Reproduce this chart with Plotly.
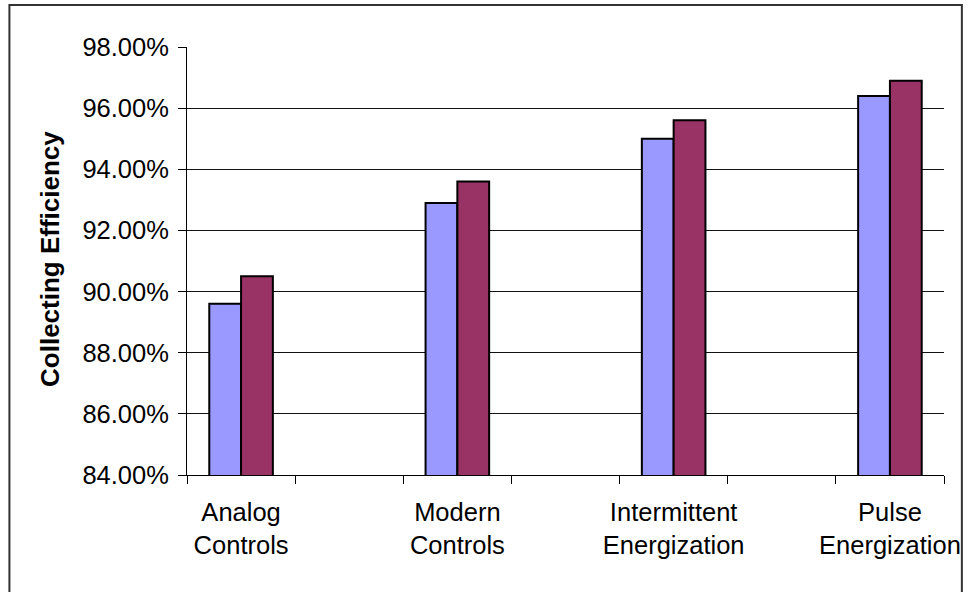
import plotly.graph_objects as go

# Technology categories and collecting efficiency for the two cases
categories = ["Analog<br>Controls", "Modern<br>Controls",
              "Intermittent<br>Energization", "Pulse<br>Energization"]
series_a = [0.896, 0.929, 0.950, 0.964]
series_b = [0.905, 0.936, 0.956, 0.969]

# Each category sits in every other slot, leaving an empty slot between groups
positions = [2 * i + 1 for i in range(len(categories))]

FONT = "Liberation Sans, Arial, sans-serif"

fig = go.Figure()
fig.add_trace(go.Bar(x=positions, y=series_a, name="Series 1",
                     marker=dict(color="#9999FF", line=dict(color="black", width=2))))
fig.add_trace(go.Bar(x=positions, y=series_b, name="Series 2",
                     marker=dict(color="#993366", line=dict(color="black", width=2))))

fig.update_layout(
    width=972, height=592,
    margin=dict(l=187, r=22, t=47, b=117),
    paper_bgcolor="white", plot_bgcolor="white",
    barmode="group", bargap=0.706, bargroupgap=0,
    showlegend=False,
    font=dict(family=FONT, size=25, color="black"),
)

fig.update_xaxes(
    range=[0.5, 2 * len(categories) - 0.5],
    tickmode="array", tickvals=positions, ticktext=categories,
    ticks="", showgrid=False, zeroline=False,
    showline=True, linecolor="black", linewidth=1,
    tickfont=dict(family=FONT, size=25.5, color="black"),
    ticklabelstandoff=14,
    minor=dict(tickmode="linear", tick0=0.5, dtick=1, ticks="outside",
               ticklen=8, tickcolor="black", tickwidth=1, showgrid=False),
)

fig.update_yaxes(
    range=[0.84, 0.98], dtick=0.02, tickformat=".2%",
    ticks="outside", ticklen=8, tickcolor="black", tickwidth=1,
    showgrid=True, gridcolor="#111111", gridwidth=1,
    zeroline=False, showline=True, linecolor="black", linewidth=1,
    tickfont=dict(family=FONT, size=25.5, color="black"),
    ticklabelstandoff=4,
)

fig.add_annotation(
    text="<b>Collecting Efficiency</b>", textangle=-90,
    xref="paper", yref="paper", x=-0.1810, y=0.5047,
    xanchor="center", yanchor="middle", showarrow=False,
    font=dict(family=FONT, size=26, color="black"),
)

# Chart frame around the whole figure
fig.add_shape(type="rect", xref="paper", yref="paper",
              x0=-0.2346, x1=1.0236, y0=-0.35, y1=1.0981,
              line=dict(color="#333333", width=2), layer="above")

fig.write_html("out.html")
